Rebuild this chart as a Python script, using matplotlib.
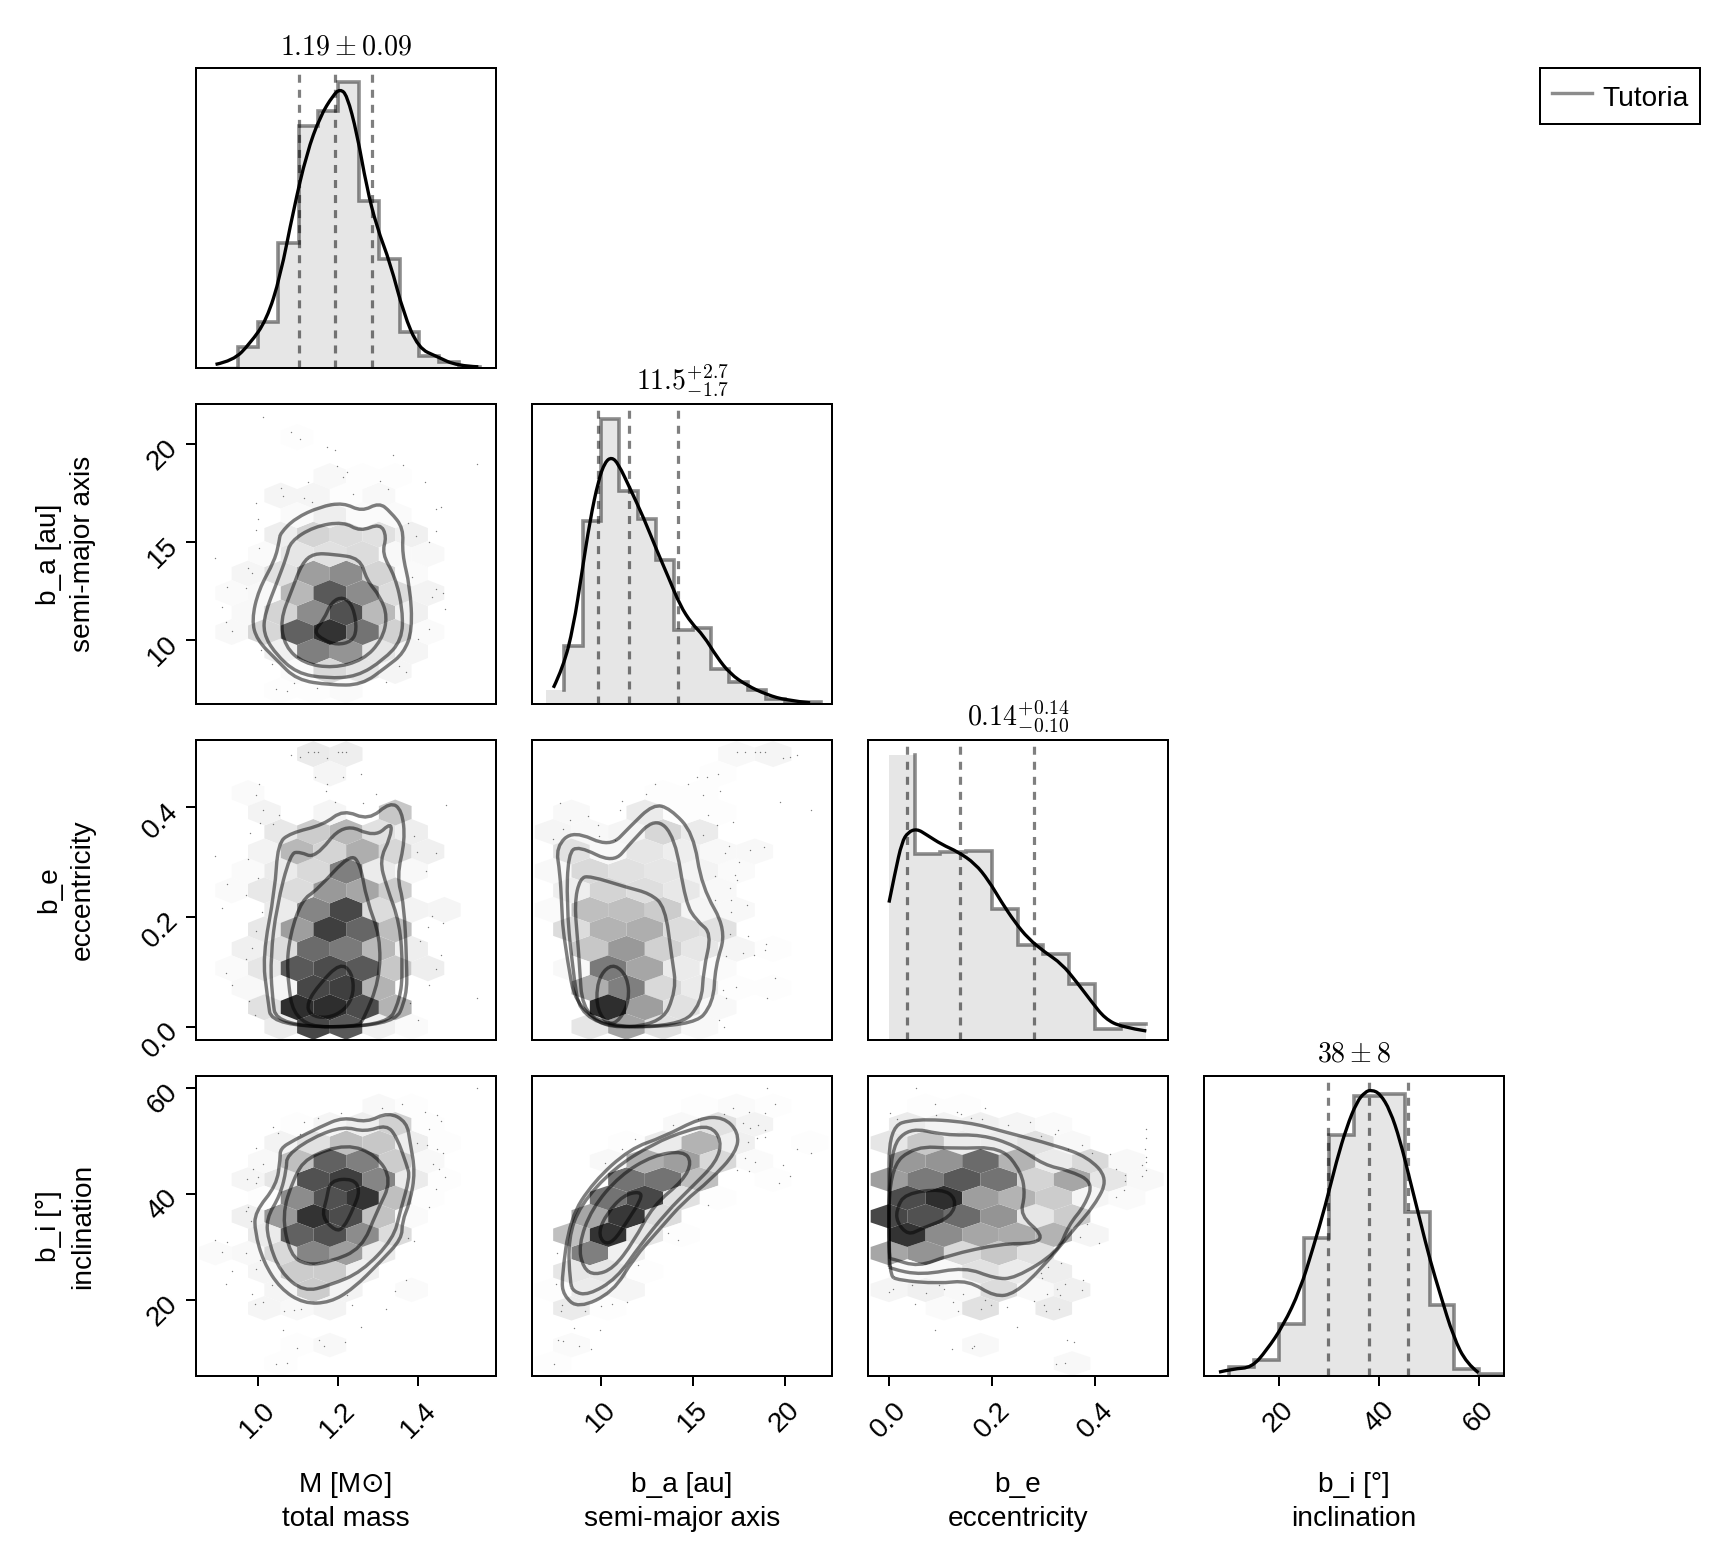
import numpy as np
import matplotlib
matplotlib.use("Agg")
import matplotlib.pyplot as plt
from matplotlib.colors import LinearSegmentedColormap
from matplotlib.lines import Line2D
from matplotlib.patches import PathPatch
from matplotlib.path import Path

plt.rcParams['font.family'] = ['Liberation Sans', 'DejaVu Sans']
plt.rcParams['mathtext.fontset'] = 'cm'

# Axis ranges and ticks for each parameter
m_lim = (0.8464, 1.593)
a_lim = (6.25, 22.55)
a_ylim = (6.71, 22.04)
e_lim = (-0.0407, 0.541)
e_ylim = (-0.0242, 0.5227)
i_lim = (5.0, 65.0)
i_ylim = (5.58, 62.3)

m_ticks = [1.0, 1.2, 1.4]
a_ticks = [10, 15, 20]
e_ticks = [0.0, 0.2, 0.4]
i_ticks = [20, 40, 60]
m_ticklabels = ["1.0", "1.2", "1.4"]
a_ticklabels = ["10", "15", "20"]
e_ticklabels = ["0.0", "0.2", "0.4"]
i_ticklabels = ["20", "40", "60"]

# Hexagon lattice of each parameter: (value of index 0, half hexagon spacing)
m_bins = (0.8945, 0.0407)
a_bins = (7.40, 0.996)
e_bins = (0.0, 0.0355)
i_bins = (7.95, 3.478)

# Diagonal histograms
m_edges = [0.899, 0.950, 1.000, 1.051, 1.102, 1.150, 1.201, 1.251, 1.302, 1.353, 1.402, 1.450, 1.502, 1.553]
m_hist = [0.006, 0.071, 0.154, 0.418, 0.807, 0.858, 0.954, 0.557, 0.364, 0.119, 0.040, 0.021, 0.004]
a_edges = [7.01, 8.01, 9.00, 10.0, 11.0, 11.99, 12.99, 13.99, 14.98, 15.98, 16.98, 17.97, 18.97, 19.97, 20.96, 21.96]
a_hist = [0.048, 0.193, 0.609, 0.950, 0.709, 0.618, 0.481, 0.248, 0.253, 0.118, 0.073, 0.048, 0.016, 0.008, 0.006]
e_edges = [0.0, 0.0499, 0.0998, 0.1497, 0.1996, 0.2495, 0.2994, 0.3493, 0.3992, 0.4491, 0.499]
e_hist = [0.951, 0.621, 0.627, 0.630, 0.436, 0.316, 0.288, 0.186, 0.038, 0.054]
i_edges = [4.9, 9.9, 14.9, 19.95, 25.0, 30.0, 35.0, 40.05, 45.1, 50.1, 55.05, 60.05, 65.1]
i_hist = [0.002, 0.030, 0.054, 0.172, 0.460, 0.803, 0.932, 0.941, 0.547, 0.236, 0.023, 0.006]

# Diagonal density curves
m_kde = [(0.895, 0.012), (0.939, 0.024), (0.981, 0.082), (1.022, 0.160), (1.056, 0.304), (1.089, 0.527),
         (1.122, 0.716), (1.155, 0.838), (1.188, 0.910), (1.205, 0.930), (1.222, 0.910), (1.247, 0.782),
         (1.271, 0.604), (1.296, 0.471), (1.330, 0.349), (1.363, 0.182), (1.400, 0.066), (1.446, 0.038),
         (1.496, 0.007), (1.549, 0.004)]
a_kde = [(7.41, 0.054), (7.95, 0.123), (8.50, 0.257), (8.95, 0.434), (9.40, 0.612), (9.86, 0.746),
         (10.22, 0.807), (10.58, 0.823), (10.94, 0.801), (11.58, 0.718), (12.30, 0.623), (13.03, 0.512),
         (13.66, 0.423), (14.29, 0.329), (14.93, 0.268), (15.56, 0.229), (16.29, 0.157), (17.01, 0.101),
         (17.92, 0.062), (19.01, 0.031), (20.09, 0.012), (21.36, 0.004)]
e_kde = [(0.0, 0.458), (0.012, 0.560), (0.025, 0.660), (0.037, 0.693), (0.054, 0.704), (0.073, 0.684),
         (0.102, 0.652), (0.134, 0.627), (0.167, 0.588), (0.193, 0.532), (0.218, 0.460), (0.244, 0.393),
         (0.270, 0.338), (0.302, 0.293), (0.335, 0.254), (0.364, 0.193), (0.393, 0.127), (0.419, 0.071),
         (0.451, 0.043), (0.499, 0.030)]
i_kde = [(8.0, 0.013), (10.87, 0.024), (14.53, 0.028), (17.53, 0.086), (20.87, 0.169), (24.20, 0.286),
         (26.87, 0.430), (29.20, 0.563), (31.54, 0.719), (33.54, 0.830), (35.54, 0.913), (37.21, 0.947),
         (38.54, 0.954), (40.21, 0.941), (42.21, 0.886), (44.21, 0.786), (46.21, 0.652), (48.21, 0.519),
         (50.21, 0.386), (52.22, 0.274), (54.88, 0.130), (57.55, 0.041), (59.89, 0.011)]

# Quantiles (dashed lines)
m_quant = [1.103, 1.193, 1.284]
a_quant = [9.82, 11.52, 14.20]
e_quant = [0.034, 0.138, 0.282]
i_quant = [29.74, 38.07, 45.75]

# Hexagon darkness in percent, {row: {column: darkness}}
hex_ma = {13: {5: 1},
          11: {7: 3, 9: 1, 11: 1},
          10: {4: 4, 6: 4, 8: 1, 10: 3},
          9: {5: 2, 7: 7, 9: 2, 11: 2},
          8: {4: 7, 6: 17, 8: 14, 10: 12, 12: 6},
          7: {3: 2, 5: 10, 7: 12, 9: 14, 11: 3, 13: 3},
          6: {2: 4, 4: 12, 6: 38, 8: 45, 10: 17, 12: 2},
          5: {1: 2, 3: 3, 5: 28, 7: 65, 9: 45, 11: 14, 13: 5},
          4: {2: 3, 4: 17, 6: 45, 8: 68, 10: 27, 12: 6},
          3: {1: 3, 3: 16, 5: 62, 7: 80, 9: 55, 11: 18, 13: 2},
          2: {4: 6, 6: 50, 8: 42, 10: 10, 12: 4},
          1: {5: 2, 7: 15, 9: 10, 11: 4},
          0: {4: 1, 6: 1, 8: 2}}
hex_me = {14: {6: 8, 8: 7},
          13: {7: 4},
          12: {2: 2},
          11: {3: 5, 7: 4, 11: 22},
          10: {4: 9, 6: 20, 8: 28, 10: 12, 12: 7},
          9: {3: 5, 5: 28, 7: 17, 9: 32, 11: 16, 13: 6},
          8: {2: 2, 4: 8, 6: 15, 8: 50, 10: 8, 12: 3},
          7: {1: 2, 3: 9, 5: 14, 7: 40, 9: 35, 11: 20},
          6: {4: 8, 6: 48, 8: 72, 10: 14, 12: 5, 14: 4},
          5: {3: 9, 5: 38, 7: 75, 9: 60, 11: 26},
          4: {2: 6, 4: 14, 6: 58, 8: 52, 10: 28, 12: 7},
          3: {1: 2, 3: 10, 5: 65, 7: 70, 9: 65, 11: 22, 13: 7},
          2: {2: 3, 4: 4, 6: 72, 8: 75, 10: 30},
          1: {3: 12, 5: 82, 7: 82, 9: 70, 11: 30},
          0: {4: 8, 6: 72, 8: 65, 10: 6, 12: 2}}
hex_ae = {14: {10: 3, 12: 4},
          13: {9: 1},
          12: {6: 1, 8: 1},
          11: {1: 3, 5: 8, 7: 1, 9: 1},
          10: {0: 4, 2: 3, 4: 4, 6: 16, 8: 8},
          9: {1: 12, 3: 3, 5: 10, 7: 7, 9: 3, 11: 3},
          8: {0: 3, 2: 15, 4: 12, 6: 10, 8: 5, 10: 2},
          7: {1: 7, 3: 17, 5: 13, 7: 9, 9: 3},
          6: {0: 2, 2: 25, 4: 25, 6: 20, 8: 4, 10: 3},
          5: {1: 14, 3: 30, 5: 32, 7: 14, 9: 12},
          4: {2: 22, 4: 40, 6: 18, 8: 10, 10: 4, 12: 1},
          3: {1: 3, 3: 52, 5: 35, 7: 8, 9: 2},
          2: {2: 32, 4: 50, 6: 15, 8: 8, 10: 1, 12: 1},
          1: {3: 82, 5: 38, 7: 12, 9: 3},
          0: {2: 10, 4: 36, 6: 12, 8: 3}}
hex_mi = {14: {10: 3, 12: 1},
          13: {5: 1, 7: 4, 9: 7, 11: 18, 13: 1},
          12: {4: 5, 6: 12, 8: 25, 10: 22, 12: 7, 14: 1},
          11: {3: 3, 5: 25, 7: 62, 9: 50, 11: 20, 13: 3},
          10: {2: 4, 4: 10, 6: 68, 8: 75, 10: 48, 12: 8, 14: 1},
          9: {3: 1, 5: 45, 7: 68, 9: 80, 11: 25, 13: 1},
          8: {2: 6, 4: 40, 6: 80, 8: 70, 10: 24, 12: 2},
          7: {3: 8, 5: 62, 7: 68, 9: 45, 11: 14},
          6: {0: 2, 2: 3, 4: 15, 6: 48, 8: 38, 10: 8},
          5: {3: 4, 5: 20, 7: 20, 9: 6},
          4: {4: 4, 6: 20, 8: 5, 12: 2},
          3: {3: 4, 5: 3, 7: 5},
          1: {5: 1, 7: 3},
          0: {4: 1}}
hex_ai = {14: {8: 1, 10: 2, 12: 1},
          13: {7: 3, 9: 12, 11: 5},
          12: {4: 1, 6: 8, 8: 30, 10: 6, 14: 1},
          11: {3: 3, 5: 32, 7: 38, 9: 15, 11: 2},
          10: {4: 55, 6: 55, 8: 25, 12: 1},
          9: {3: 55, 5: 72, 7: 12, 9: 1},
          8: {2: 35, 4: 78, 6: 14},
          7: {1: 25, 3: 80, 5: 10, 7: 1},
          6: {2: 50, 4: 6},
          5: {1: 10, 3: 10, 5: 1},
          4: {0: 1, 2: 8, 4: 4},
          3: {1: 8, 3: 1},
          1: {1: 2},
          0: {0: 1}}
hex_ei = {14: {2: 1, 4: 1},
          13: {1: 8, 3: 5, 5: 6, 7: 4, 9: 2},
          12: {0: 10, 2: 22, 4: 8, 6: 8, 8: 12, 10: 3},
          11: {1: 40, 3: 42, 5: 58, 7: 30, 9: 8, 11: 15, 13: 3},
          10: {0: 38, 2: 52, 4: 65, 6: 55, 8: 17, 10: 35, 12: 10, 14: 3},
          9: {1: 70, 3: 82, 5: 38, 7: 30, 9: 20, 11: 4, 13: 2},
          8: {0: 72, 2: 68, 4: 58, 6: 42, 8: 10, 10: 20},
          7: {1: 80, 3: 45, 5: 35, 7: 33, 9: 30, 11: 4},
          6: {0: 35, 2: 42, 4: 15, 6: 22, 8: 12},
          5: {1: 2, 3: 3, 5: 12, 7: 8, 9: 7},
          4: {0: 4, 2: 6, 4: 3, 6: 14, 8: 3, 10: 6},
          3: {3: 2, 5: 12, 9: 8},
          1: {5: 3},
          0: {10: 3}}

# Contours, outer to inner
contour_ma = [
    [(1.056, 15.43), (1.093, 16.20), (1.155, 16.79), (1.213, 17.00), (1.259, 16.54), (1.302, 17.00), (1.330, 16.54),
     (1.363, 15.69), (1.359, 14.41), (1.379, 12.71), (1.385, 10.49), (1.363, 9.30), (1.321, 8.62), (1.259, 7.68),
     (1.180, 7.68), (1.097, 7.94), (1.047, 8.96), (0.998, 9.98), (0.985, 11.00), (1.002, 12.54), (1.043, 14.07),
     (1.054, 15.09)],
    [(1.081, 15.01), (1.139, 15.77), (1.213, 16.03), (1.255, 15.52), (1.305, 15.94), (1.321, 15.26), (1.309, 14.41),
     (1.342, 13.22), (1.361, 11.52), (1.359, 9.98), (1.313, 8.96), (1.247, 8.11), (1.172, 8.02), (1.097, 8.28),
     (1.043, 9.30), (1.014, 10.32), (1.018, 11.35), (1.047, 12.88), (1.072, 14.24)],
    [(1.139, 14.41), (1.188, 14.36), (1.255, 14.16), (1.271, 13.05), (1.305, 12.20), (1.323, 11.18), (1.309, 9.98),
     (1.263, 8.96), (1.188, 8.54), (1.114, 8.79), (1.068, 9.64), (1.056, 11.00), (1.085, 12.54), (1.110, 13.90)],
    [(1.184, 11.94), (1.213, 12.20), (1.238, 11.69), (1.247, 10.49), (1.234, 9.90), (1.197, 9.73), (1.164, 9.98),
     (1.139, 10.41), (1.164, 11.00)],
]
contour_me = [
    [(1.035, 0.0), (1.024, 0.055), (1.012, 0.128), (1.043, 0.249), (1.050, 0.334), (1.081, 0.353), (1.164, 0.368),
     (1.213, 0.396), (1.276, 0.376), (1.330, 0.410), (1.359, 0.395), (1.367, 0.340), (1.346, 0.274), (1.364, 0.225),
     (1.371, 0.116), (1.371, 0.055), (1.338, 0.0)],
    [(1.047, 0.0), (1.035, 0.061), (1.032, 0.128), (1.047, 0.219), (1.081, 0.316), (1.105, 0.319), (1.143, 0.307),
     (1.213, 0.372), (1.292, 0.345), (1.334, 0.374), (1.330, 0.344), (1.303, 0.304), (1.321, 0.255), (1.354, 0.188),
     (1.361, 0.103), (1.354, 0.049), (1.321, 0.0)],
    [(1.093, 0.0), (1.071, 0.103), (1.081, 0.170), (1.110, 0.231), (1.147, 0.249), (1.230, 0.315), (1.255, 0.298),
     (1.271, 0.231), (1.305, 0.164), (1.303, 0.085), (1.263, 0.012), (1.247, 0.0)],
    [(1.205, 0.116), (1.234, 0.100), (1.240, 0.061), (1.217, 0.030), (1.172, 0.015), (1.130, 0.021), (1.122, 0.043),
     (1.155, 0.079)],
]
contour_ae = [
    [(8.82, 0.0), (7.95, 0.164), (7.86, 0.225), (7.77, 0.280), (7.55, 0.328), (8.50, 0.358), (10.49, 0.327),
     (11.58, 0.365), (12.84, 0.406), (13.75, 0.398), (15.02, 0.353), (15.47, 0.255), (16.83, 0.176), (16.20, 0.109),
     (16.11, 0.043), (15.02, 0.0)],
    [(8.95, 0.0), (8.41, 0.116), (8.13, 0.225), (8.22, 0.316), (8.77, 0.330), (10.67, 0.298), (11.58, 0.334),
     (12.94, 0.382), (14.02, 0.347), (14.60, 0.225), (15.20, 0.193), (16.02, 0.170), (15.56, 0.103), (15.47, 0.043),
     (14.29, 0.0)],
    [(9.04, 0.0), (8.77, 0.146), (8.55, 0.225), (8.86, 0.271), (9.40, 0.275), (11.40, 0.254), (12.66, 0.243),
     (13.48, 0.219), (13.84, 0.128), (14.11, 0.067), (13.21, 0.0)],
    [(10.76, 0.114), (11.43, 0.091), (11.54, 0.049), (11.03, 0.012), (10.40, 0.003), (9.80, 0.030), (9.76, 0.073),
     (10.13, 0.103)],
]
contour_mi = [
    [(1.056, 48.57), (1.089, 50.14), (1.155, 52.66), (1.213, 54.55), (1.271, 53.48), (1.325, 55.50), (1.371, 53.61),
     (1.379, 49.83), (1.392, 44.16), (1.379, 38.49), (1.359, 34.71), (1.359, 31.56), (1.305, 27.15), (1.238, 22.11),
     (1.180, 19.46), (1.114, 19.27), (1.056, 22.11), (1.014, 27.15), (0.993, 32.82), (0.993, 36.60), (1.047, 41.64),
     (1.056, 46.68)],
    [(1.072, 47.31), (1.139, 50.77), (1.213, 52.79), (1.267, 51.72), (1.321, 53.10), (1.346, 50.77), (1.371, 45.42),
     (1.379, 43.21), (1.354, 36.60), (1.338, 31.56), (1.259, 25.26), (1.180, 22.74), (1.114, 21.48), (1.056, 25.26),
     (1.027, 30.93), (1.021, 35.34), (1.056, 39.75), (1.072, 44.79)],
    [(1.122, 46.99), (1.222, 49.51), (1.296, 47.31), (1.334, 42.58), (1.296, 36.60), (1.259, 29.67), (1.180, 27.15),
     (1.122, 26.52), (1.081, 28.41), (1.060, 35.97), (1.089, 42.90)],
    [(1.180, 42.58), (1.238, 42.90), (1.255, 40.69), (1.238, 37.23), (1.213, 33.45), (1.193, 33.01), (1.159, 35.65),
     (1.172, 39.12)],
]
contour_ai = [
    [(7.86, 24.00), (8.31, 35.34), (9.58, 42.27), (11.58, 48.57), (13.39, 50.77), (15.38, 54.36), (16.65, 54.55),
     (17.47, 51.72), (17.37, 47.94), (15.93, 42.58), (14.48, 38.49), (13.21, 33.45), (11.76, 27.78), (10.67, 21.48),
     (8.77, 18.33), (7.95, 20.85)],
    [(8.31, 23.37), (8.22, 31.56), (8.86, 37.86), (10.67, 44.79), (12.84, 49.51), (14.66, 52.03), (15.93, 52.98),
     (16.56, 50.14), (16.29, 46.05), (14.84, 41.01), (13.57, 36.60), (12.12, 30.30), (10.85, 24.00), (9.31, 20.85),
     (8.50, 21.48)],
    [(9.04, 25.89), (8.77, 30.30), (9.49, 37.23), (11.03, 43.53), (12.84, 47.31), (14.48, 48.13), (14.93, 46.05),
     (14.48, 42.58), (12.84, 37.86), (11.76, 30.93), (10.67, 25.89), (9.67, 24.63)],
    [(9.86, 32.82), (10.31, 36.28), (11.21, 39.75), (12.12, 40.50), (12.21, 39.12), (11.40, 34.71), (10.67, 30.93),
     (10.13, 30.61)],
]
contour_ei = [
    [(0.0, 24.63), (0.0, 39.12), (0.0, 52.66), (0.050, 54.24), (0.154, 53.61), (0.225, 51.72), (0.322, 49.20),
     (0.386, 46.99), (0.425, 42.90), (0.399, 37.86), (0.354, 32.82), (0.296, 25.89), (0.244, 21.16), (0.205, 20.53),
     (0.154, 23.68), (0.096, 23.05), (0.018, 23.68)],
    [(0.0, 26.52), (0.0, 47.94), (0.037, 52.66), (0.109, 51.09), (0.180, 51.21), (0.244, 49.20), (0.302, 45.42),
     (0.348, 44.47), (0.396, 42.27), (0.380, 37.86), (0.348, 34.08), (0.328, 29.04), (0.244, 24.00), (0.205, 24.00),
     (0.147, 26.20), (0.063, 24.63), (0.002, 25.89)],
    [(0.0, 27.78), (0.0, 44.79), (0.050, 49.07), (0.128, 48.57), (0.218, 48.88), (0.257, 44.16), (0.264, 39.75),
     (0.254, 35.97), (0.299, 32.19), (0.283, 30.61), (0.218, 30.61), (0.115, 28.41), (0.057, 26.20), (0.005, 27.78)],
    [(0.031, 40.06), (0.102, 41.01), (0.131, 39.12), (0.121, 35.65), (0.063, 33.45), (0.037, 32.19), (0.015, 34.71),
     (0.015, 37.23)],
]

# Single samples outside the dense part
dots_ma = [(1.012, 21.39), (1.083, 20.63), (1.105, 20.27), (1.172, 19.86), (1.193, 19.69), (1.336, 19.43), (1.361, 18.92),
           (1.545, 18.97), (1.197, 18.87), (1.222, 18.58), (1.212, 18.33), (1.305, 18.12), (1.125, 18.04), (1.058, 17.77),
           (1.417, 18.04), (1.323, 17.70), (1.064, 17.34), (1.115, 17.25), (1.134, 17.05), (1.238, 17.44), (0.996, 17.0),
           (1.444, 16.68), (1.457, 16.76), (1.0, 16.15), (1.375, 15.94), (0.996, 15.60), (1.394, 15.31), (1.444, 15.57),
           (1.427, 15.0), (1.002, 14.70), (0.893, 14.17), (0.975, 13.64), (0.985, 13.39), (1.384, 13.18), (0.924, 12.69),
           (0.971, 12.66), (1.444, 12.61), (1.462, 12.37), (1.433, 12.16), (0.911, 11.65), (1.467, 11.58), (0.920, 10.89),
           (0.935, 10.46), (1.426, 10.56), (1.398, 10.03), (1.007, 9.47), (1.352, 8.67), (1.035, 8.76), (1.368, 8.33),
           (1.319, 7.85), (1.091, 7.80), (1.147, 7.51), (1.046, 7.48), (1.072, 7.39)]
dots_me = [(1.083, 0.496), (1.105, 0.491), (1.126, 0.500), (1.139, 0.500), (1.149, 0.500), (1.199, 0.500), (1.209, 0.500),
           (1.219, 0.500), (1.172, 0.489), (1.256, 0.460), (1.143, 0.456), (1.211, 0.456), (1.172, 0.442), (1.002, 0.442),
           (1.170, 0.429), (0.996, 0.423), (1.295, 0.424), (1.193, 0.409), (1.263, 0.407), (1.468, 0.404), (1.012, 0.395),
           (1.053, 0.386), (1.006, 0.372), (1.037, 0.369), (0.981, 0.354), (1.389, 0.347), (0.893, 0.311), (0.977, 0.305),
           (1.396, 0.319), (1.444, 0.317), (1.419, 0.284), (1.001, 0.271), (0.924, 0.260), (0.971, 0.241), (0.911, 0.216),
           (1.011, 0.210), (1.434, 0.202), (1.462, 0.190), (1.425, 0.182), (0.996, 0.174), (0.985, 0.143), (1.403, 0.156),
           (1.457, 0.130), (0.971, 0.123), (1.444, 0.106), (0.920, 0.098), (0.935, 0.076), (1.427, 0.076), (1.545, 0.052),
           (1.379, 0.043), (0.978, 0.046), (0.993, 0.021), (1.398, 0.012)]
dots_ae = [(17.37, 0.500), (17.83, 0.500), (18.37, 0.500), (18.64, 0.500), (18.92, 0.500), (19.88, 0.489), (20.27, 0.491),
           (20.64, 0.496), (15.24, 0.456), (15.78, 0.456), (16.34, 0.460), (12.94, 0.442), (14.71, 0.442), (16.47, 0.429),
           (12.45, 0.424), (15.56, 0.423), (11.16, 0.411), (19.73, 0.409), (7.77, 0.407), (11.03, 0.395), (21.40, 0.395),
           (9.31, 0.385), (15.83, 0.386), (8.31, 0.377), (9.86, 0.368), (17.19, 0.374), (7.95, 0.360), (16.29, 0.367),
           (9.91, 0.347), (7.41, 0.342), (15.53, 0.350), (10.76, 0.340), (16.96, 0.330), (18.10, 0.322), (18.88, 0.328),
           (16.74, 0.317), (17.47, 0.301), (16.20, 0.274), (17.28, 0.277), (17.37, 0.268), (17.01, 0.252), (16.20, 0.231),
           (17.05, 0.231), (17.95, 0.221), (17.05, 0.210), (17.01, 0.169), (17.97, 0.165), (18.95, 0.151), (18.92, 0.139),
           (17.74, 0.135), (18.32, 0.131), (16.78, 0.129), (19.46, 0.088), (17.34, 0.072), (16.61, 0.067), (19.01, 0.052),
           (16.80, 0.052), (16.43, 0.013), (16.69, 0.0)]
dots_mi = [(1.545, 59.97), (1.309, 56.32), (1.359, 57.07), (1.208, 55.37), (1.417, 55.50), (1.446, 55.0), (1.115, 53.61),
           (1.149, 54.36), (1.457, 53.73), (1.427, 52.35), (1.037, 52.60), (1.050, 51.59), (1.104, 51.40), (1.396, 49.64),
           (1.421, 49.20), (0.996, 48.69), (1.446, 48.57), (1.462, 47.75), (1.014, 45.73), (0.989, 44.79), (1.435, 45.61),
           (1.450, 44.79), (0.973, 42.90), (1.001, 43.21), (0.996, 42.14), (1.467, 43.21), (1.444, 40.88), (1.426, 37.54),
           (0.977, 37.54), (0.971, 36.79), (0.983, 34.90), (1.389, 31.12), (1.375, 31.68), (0.893, 31.24), (0.924, 30.93),
           (0.911, 29.04), (0.971, 28.79), (1.006, 27.59), (0.996, 25.89), (0.935, 25.38), (0.920, 22.93), (1.368, 23.68),
           (1.342, 21.60), (1.035, 22.74), (0.985, 21.16), (1.222, 20.85), (1.014, 19.59), (0.993, 19.15), (1.234, 19.08),
           (1.319, 18.33), (1.066, 17.89), (1.091, 18.01), (1.107, 18.33), (1.257, 14.80), (1.062, 14.23), (1.153, 12.34),
           (1.217, 12.03), (1.164, 11.27), (1.097, 10.89), (1.046, 7.87), (1.072, 8.06)]
dots_ai = [(19.01, 59.97), (19.46, 57.07), (17.16, 56.32), (18.92, 55.31), (18.05, 55.50), (16.69, 55.18), (15.29, 54.24),
           (13.90, 52.98), (17.74, 53.48), (18.10, 52.47), (18.55, 53.10), (18.92, 52.03), (18.46, 50.65), (18.92, 50.77),
           (11.85, 50.46), (17.97, 49.83), (11.12, 48.44), (10.22, 45.92), (17.83, 46.87), (18.37, 46.05), (19.88, 45.54),
           (20.64, 48.44), (21.40, 47.75), (20.27, 43.40), (19.69, 42.08), (17.37, 44.60), (18.05, 44.28), (15.83, 37.86),
           (13.62, 32.63), (14.17, 31.24), (7.59, 28.91), (11.99, 26.64), (7.54, 23.05), (11.43, 19.59), (10.62, 19.27),
           (10.0, 18.83), (7.86, 18.96), (7.81, 17.89), (9.13, 17.89), (9.95, 14.23), (8.53, 14.74), (7.68, 12.34),
           (7.95, 12.15), (8.82, 11.27), (9.44, 10.77), (7.46, 7.93)]
dots_ei = [(0.052, 59.97), (0.089, 57.07), (0.186, 56.32), (0.001, 55.37), (0.131, 55.50), (0.139, 55.18), (0.092, 55.0),
           (0.015, 54.11), (0.159, 54.36), (0.180, 54.24), (0.231, 53.10), (0.273, 53.61), (0.328, 52.03), (0.322, 51.28),
           (0.499, 52.35), (0.499, 50.65), (0.294, 50.96), (0.375, 49.20), (0.348, 48.57), (0.428, 47.50), (0.394, 47.81),
           (0.496, 48.57), (0.499, 46.99), (0.499, 46.05), (0.490, 45.42), (0.441, 44.79), (0.457, 43.65), (0.499, 44.47),
           (0.490, 43.40), (0.457, 42.39), (0.456, 40.69), (0.441, 39.43), (0.384, 34.39), (0.370, 31.87), (0.407, 30.74),
           (0.333, 27.02), (0.309, 26.20), (0.295, 25.13), (0.296, 24.19), (0.377, 23.81), (0.341, 23.05), (0.375, 21.79),
           (0.325, 21.98), (0.307, 21.04), (0.331, 20.97), (0.008, 21.98), (0.0, 21.48), (0.045, 22.86), (0.072, 21.23),
           (0.097, 22.74), (0.143, 21.10), (0.107, 21.98), (0.050, 19.27), (0.125, 19.59), (0.134, 17.89), (0.178, 18.33),
           (0.186, 19.90), (0.198, 18.96), (0.228, 18.64), (0.281, 19.71), (0.300, 19.08), (0.304, 17.89), (0.329, 18.33),
           (0.089, 14.23), (0.249, 14.80), (0.123, 10.77), (0.160, 10.89), (0.165, 11.27), (0.346, 12.34), (0.359, 12.03),
           (0.323, 7.93), (0.342, 8.06)]

titles = [r"$1.19 \pm 0.09$", r"$11.5^{+2.7}_{-1.7}$", r"$0.14^{+0.14}_{-0.10}$", r"$38 \pm 8$"]
x_labels = ["M [M\u2299]\ntotal mass", "b_a [au]\nsemi-major axis", "b_e\neccentricity", "b_i [\u00b0]\ninclination"]
y_labels = ["b_a [au]\nsemi-major axis", "b_e\neccentricity", "b_i [\u00b0]\ninclination"]

# Sizes in pixels, the figure is saved at 100 dpi
W, H = 1732, 1564
PX = 72 / 100
FONT = 28 * PX
SOFT = (0, 0, 0, 0.5)
shade = LinearSegmentedColormap.from_list("shade", ["white", "black"])


def smooth_path(pts, closed):
    # quadratic curve with the read points as control points
    pts = np.array(pts)
    if closed:
        mids = (pts + np.roll(pts, -1, axis=0)) / 2
        verts = [mids[-1]]
        codes = [Path.MOVETO]
        for p, m in zip(pts, mids):
            verts += [p, m]
            codes += [Path.CURVE3, Path.CURVE3]
    else:
        verts = [pts[0]]
        codes = [Path.MOVETO]
        for k in range(1, len(pts) - 1):
            end = (pts[k] + pts[k + 1]) / 2 if k < len(pts) - 2 else pts[k + 1]
            verts += [pts[k], end]
            codes += [Path.CURVE3, Path.CURVE3]
    return Path(verts, codes)


def panel(row, col):
    ax = fig.add_axes([(196 + 336 * col) / W, 1 - (68 + 336 * row + 300) / H, 300 / W, 300 / H])
    for s in ax.spines.values():
        s.set_linewidth(2 * PX)
    ax.tick_params(length=10 * PX, width=2 * PX, labelsize=FONT)
    ax.set_xticks([])
    ax.set_yticks([])
    return ax


def draw_hexes(ax, hexes, xbins, ybins):
    xs, ys, vals = [], [], []
    for j, cells in hexes.items():
        for i, v in cells.items():
            xs.append(xbins[0] + i * xbins[1])
            ys.append(ybins[0] + j * ybins[1])
            vals.append(v)
    nx = max(int(round((x - xbins[0]) / xbins[1])) for x in xs) // 2 + 2
    ny = max(hexes) // 2 + 2
    ax.hexbin(xs, ys, C=vals, gridsize=(nx, ny), cmap=shade, vmin=0, vmax=100,
              reduce_C_function=np.max, edgecolors='none', linewidths=0,
              extent=(xbins[0], xbins[0] + nx * 2 * xbins[1], ybins[0], ybins[0] + ny * 2 * ybins[1]))


fig = plt.figure(figsize=(W / 100, H / 100), dpi=100)

# Diagonal
diag = [(m_edges, m_hist, m_kde, m_quant, m_lim), (a_edges, a_hist, a_kde, a_quant, a_lim),
        (e_edges, e_hist, e_kde, e_quant, e_lim), (i_edges, i_hist, i_kde, i_quant, i_lim)]
axes = {}
for k, (edges, hist, kde, quant, xlim) in enumerate(diag):
    ax = panel(k, k)
    axes[(k, k)] = ax
    ax.stairs(hist, edges, fill=True, color='#e6e6e6', linewidth=0)
    edges = np.array(edges)
    hist = np.array(hist)
    # the outline leaves out the first bin
    ax.plot(np.repeat(edges[1:], 2)[:-1], np.repeat(hist, 2)[1:], color=(0, 0, 0, 0.45), lw=3.6 * PX,
            solid_joinstyle='miter')
    for q in quant:
        ax.axvline(q, color=SOFT, lw=3.2 * PX, dashes=(2.5, 2.2))
    ax.add_patch(PathPatch(smooth_path(kde, False), fill=False, edgecolor='black', lw=3.3 * PX))
    ax.set_xlim(xlim)
    ax.set_ylim(0, 1)
    ax.set_title(titles[k], fontsize=FONT, pad=14 * PX)

# Off diagonal
pairs = [(1, 0, hex_ma, contour_ma, dots_ma, m_bins, a_bins, m_lim, a_ylim),
         (2, 0, hex_me, contour_me, dots_me, m_bins, e_bins, m_lim, e_ylim),
         (2, 1, hex_ae, contour_ae, dots_ae, a_bins, e_bins, a_lim, e_ylim),
         (3, 0, hex_mi, contour_mi, dots_mi, m_bins, i_bins, m_lim, i_ylim),
         (3, 1, hex_ai, contour_ai, dots_ai, a_bins, i_bins, a_lim, i_ylim),
         (3, 2, hex_ei, contour_ei, dots_ei, e_bins, i_bins, e_lim, i_ylim)]
for row, col, hexes, contours, dots, xbins, ybins, xlim, ylim in pairs:
    ax = panel(row, col)
    axes[(row, col)] = ax
    draw_hexes(ax, hexes, xbins, ybins)
    d = np.array(dots)
    ax.scatter(d[:, 0], d[:, 1], s=1.0, color=SOFT, linewidths=0, zorder=2)
    for c in contours:
        ax.add_patch(PathPatch(smooth_path(c, True), fill=False, edgecolor=SOFT, lw=3.4 * PX, zorder=3))
    ax.set_xlim(xlim)
    ax.set_ylim(ylim)

# Ticks and labels on the outer panels
x_tick_sets = [(m_ticks, m_ticklabels), (a_ticks, a_ticklabels), (e_ticks, e_ticklabels), (i_ticks, i_ticklabels)]
y_tick_sets = [(a_ticks, a_ticklabels), (e_ticks, e_ticklabels), (i_ticks, i_ticklabels)]
for col in range(4):
    ax = axes[(3, col)]
    ax.set_xticks(x_tick_sets[col][0], x_tick_sets[col][1], rotation=45, ha='center')
    ax.tick_params(axis='x', pad=11 * PX)
    ax.set_xlabel(x_labels[col], fontsize=FONT, linespacing=1.41, va='center')
    ax.xaxis.set_label_coords(0.5, -0.42)
for row in range(1, 4):
    ax = axes[(row, 0)]
    ax.set_yticks(y_tick_sets[row - 1][0], y_tick_sets[row - 1][1], rotation=45, va='center', ha='right',
                  rotation_mode='anchor')
    ax.tick_params(axis='y', pad=12 * PX)
    ax.set_ylabel(y_labels[row - 1], fontsize=FONT, linespacing=1.41, va='center')
    ax.yaxis.set_label_coords(-0.433, 0.5)

# Legend
leg = fig.legend(handles=[Line2D([], [], color=(0, 0, 0, 0.45), lw=3.4 * PX, label="Tutoria")], loc='upper left',
                 bbox_to_anchor=(1540 / W, 1 - 68 / H), borderaxespad=0, fontsize=FONT, fancybox=False,
                 framealpha=1, edgecolor='black', handlelength=1.43, handletextpad=0.36, borderpad=0.43,
                 handleheight=1.4)
leg.get_frame().set_linewidth(2 * PX)

fig.savefig("out.png", dpi=100)
